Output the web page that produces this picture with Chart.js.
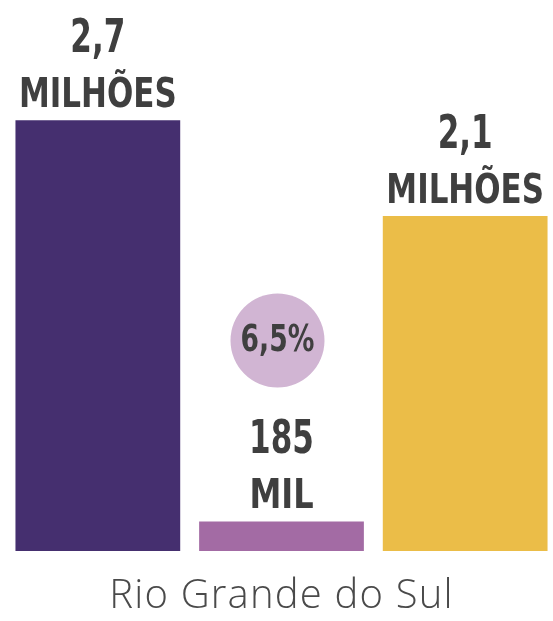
<!DOCTYPE html>
<html>
<head>
<meta charset="utf-8">
<script src="https://cdn.jsdelivr.net/npm/chart.js@4.4.0/dist/chart.umd.min.js"></script>
<style>
  html, body { margin: 0; padding: 0; background: #fff; overflow: hidden; }
  #wrap { position: relative; width: 560px; height: 621px; }
</style>
</head>
<body>
<div id="wrap"><canvas id="chart" width="560" height="621"></canvas></div>
<script>
// data
const categories = ['Total', 'Perdas', 'Restante'];
const values = [2700000, 185000, 2100000];
const numberLabels = ['2,7', '185', '2,1'];
const unitLabels = ['MILHÕES', 'MIL', 'MILHÕES'];
const barColors = ['#452f6f', '#a36ba4', '#ebbd48'];
const shareLabel = '6,5%';
const regionLabel = 'Rio Grande do Sul';

const boldFont = '"Liberation Sans Narrow", "DejaVu Sans Condensed", sans-serif';

// draw text squeezed horizontally (reference uses a narrow face)
function narrowText(ctx, text, x, y, sx) {
    ctx.save();
    ctx.translate(x, y);
    ctx.scale(sx, 1);
    ctx.fillText(text, 0, 0);
    ctx.restore();
}

// labels above the bars + the percentage bubble
const labelPlugin = {
    id: 'barLabels',
    beforeDraw(chart) {
        chart.ctx.letterSpacing = '1.2px';
    },
    afterDatasetsDraw(chart) {
        const ctx = chart.ctx;
        const bars = chart.getDatasetMeta(0).data;
        ctx.save();
        ctx.letterSpacing = '0px';
        ctx.fillStyle = '#3f3f3f';
        ctx.textAlign = 'center';
        ctx.textBaseline = 'alphabetic';
        bars.forEach((bar, i) => {
            ctx.font = 'bold 46px ' + boldFont;
            narrowText(ctx, numberLabels[i], bar.x, bar.y - 68, 0.75);
            ctx.font = 'bold 40px ' + boldFont;
            narrowText(ctx, unitLabels[i], bar.x, bar.y - 13, i === 1 ? 0.89 : 0.86);
        });

        const mid = bars[1];
        const cx = mid.x - 4, cy = mid.y - 181;
        ctx.beginPath();
        ctx.arc(cx, cy, 47, 0, Math.PI * 2);
        ctx.fillStyle = '#d1b5d3';
        ctx.fill();
        ctx.fillStyle = '#3f3f3f';
        ctx.textBaseline = 'middle';
        ctx.font = 'bold 37px ' + boldFont;
        narrowText(ctx, shareLabel, cx, cy + 1, 0.8);
        ctx.restore();
    }
};

new Chart(document.getElementById('chart'), {
    type: 'bar',
    data: {
        labels: categories,
        datasets: [{
            data: values,
            backgroundColor: barColors,
            borderWidth: 0,
            barPercentage: 0.897,
            categoryPercentage: 1
        }]
    },
    options: {
        responsive: false,
        animation: false,
        devicePixelRatio: 1,
        layout: { padding: { left: 6, right: 3, top: 0, bottom: 0 } },
        plugins: { legend: { display: false }, tooltip: { enabled: false } },
        scales: {
            y: {
                display: false,
                min: 0,
                max: 2700000 * 550 / 430
            },
            x: {
                grid: { display: false },
                border: { display: false },
                ticks: { display: false },
                title: {
                    display: true,
                    text: regionLabel,
                    color: '#4a4a4a',
                    font: { family: '"Open Sans", "Noto Sans", sans-serif', size: 40, weight: 300 },
                    padding: { top: 14, bottom: 0 }
                }
            }
        }
    },
    plugins: [labelPlugin]
});
</script>
</body>
</html>
